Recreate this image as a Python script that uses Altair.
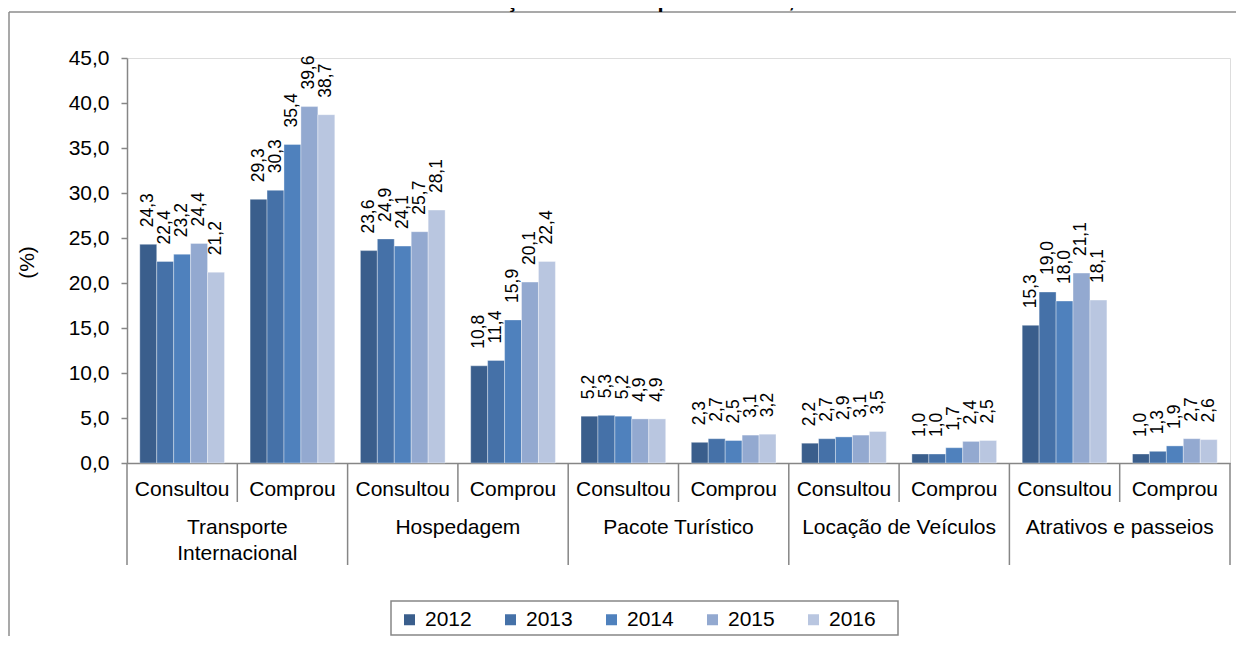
import altair as alt
import pandas as pd

# ---------------- data ----------------
groups = ["Transporte Internacional", "Hospedagem", "Pacote Turístico",
          "Locação de Veículos", "Atrativos e passeios"]
group_labels = ["Transporte\nInternacional", "Hospedagem", "Pacote Turístico",
                "Locação de Veículos", "Atrativos e passeios"]
subs = ["Consultou", "Comprou"]
years = ["2012", "2013", "2014", "2015", "2016"]

transporte_consultou = [24.3, 22.4, 23.2, 24.4, 21.2]
transporte_comprou = [29.3, 30.3, 35.4, 39.6, 38.7]
hospedagem_consultou = [23.6, 24.9, 24.1, 25.7, 28.1]
hospedagem_comprou = [10.8, 11.4, 15.9, 20.1, 22.4]
pacote_consultou = [5.2, 5.3, 5.2, 4.9, 4.9]
pacote_comprou = [2.3, 2.7, 2.5, 3.1, 3.2]
locacao_consultou = [2.2, 2.7, 2.9, 3.1, 3.5]
locacao_comprou = [1.0, 1.0, 1.7, 2.4, 2.5]
atrativos_consultou = [15.3, 19.0, 18.0, 21.1, 18.1]
atrativos_comprou = [1.0, 1.3, 1.9, 2.7, 2.6]

series = [
    transporte_consultou, transporte_comprou,
    hospedagem_consultou, hospedagem_comprou,
    pacote_consultou, pacote_comprou,
    locacao_consultou, locacao_comprou,
    atrativos_consultou, atrativos_comprou,
]

y_ticks = [0, 5, 10, 15, 20, 25, 30, 35, 40, 45]
colors = ["#3A5E8C", "#4571A8", "#4F81BD", "#93A9D0", "#B9C6E0"]
title_text = "Gráfico 10 – Serviços utilizados pela internet, 2012-2016"

# ---------------- tables ----------------
cats = [f"{g}|{s}" for g in groups for s in subs]
rows = []
for i, cat in enumerate(cats):
    for y, v in zip(years, series[i]):
        rows.append({"cat": cat, "year": y, "value": v,
                     "label": f"{v:.1f}".replace(".", ",")})
df = pd.DataFrame(rows)

df_sub = pd.DataFrame({"cat": cats, "sub": [c.split("|")[1] for c in cats]})
df_long = pd.DataFrame({"cat": [f"{g}|{subs[0]}" for g in groups]})
df_short = pd.DataFrame({"cat": [f"{g}|{subs[1]}" for g in groups]})
df_end = pd.DataFrame({"cat": [cats[-1]]})
df_grp = pd.DataFrame({"cat": [f"{g}|{subs[0]}" for g in groups], "text": group_labels})
df_one = pd.DataFrame({"text": [title_text]})

FONT = "Liberation Sans"
GRAY = "#868686"
H = 405
W = 1103

xscale = alt.Scale(domain=cats, paddingInner=0, paddingOuter=0)
yscale = alt.Scale(domain=[0, 45], nice=False)
xoff_scale = alt.Scale(domain=years, paddingInner=0, paddingOuter=0.755)

bars = alt.Chart(df).mark_bar(stroke="white", strokeWidth=0.6, strokeOpacity=0.6).encode(
    x=alt.X("cat:N", scale=xscale,
            axis=alt.Axis(labels=False, ticks=False, title=None, domainColor=GRAY, domainWidth=1.5)),
    xOffset=alt.XOffset("year:N", scale=xoff_scale),
    y=alt.Y("value:Q", scale=yscale,
            axis=alt.Axis(values=y_ticks, grid=False, title="(%)",
                          labelExpr="replace(format(datum.value, '.1f'), '.', ',')",
                          labelFont=FONT, labelFontSize=21, labelColor="black", labelPadding=12,
                          tickColor=GRAY, tickSize=6, tickWidth=1.5, domainColor=GRAY, domainWidth=1.5,
                          titleFont=FONT, titleFontSize=21, titleFontWeight="normal", titleColor="black",
                          titleAngle=270, titleX=-100, titleY=204, titleAlign="center",
                          titleBaseline="middle")),
    color=alt.Color("year:N", scale=alt.Scale(domain=years, range=colors),
                    legend=alt.Legend(title=None, orient="none", direction="horizontal",
                                      legendX=272, legendY=551, padding=0,
                                      symbolType="square", symbolSize=121, symbolStrokeWidth=0,
                                      labelFont=FONT, labelFontSize=21, labelColor="black",
                                      labelOffset=5, columnPadding=28)),
)

labels = alt.Chart(df).mark_text(angle=270, align="left", baseline="middle", dx=17,
                                 font=FONT, fontSize=17.5, color="black").encode(
    x=alt.X("cat:N", scale=xscale),
    xOffset=alt.XOffset("year:N", scale=xoff_scale),
    y=alt.Y("value:Q", scale=yscale),
    text="label:N",
)

sep_long = alt.Chart(df_long).mark_rule(color=GRAY, strokeWidth=1.5).encode(
    x=alt.X("cat:N", scale=xscale, bandPosition=0),
    y=alt.value(H), y2=alt.value(H + 102),
)
sep_end = alt.Chart(df_end).mark_rule(color=GRAY, strokeWidth=1.5).encode(
    x=alt.X("cat:N", scale=xscale, bandPosition=1),
    y=alt.value(H), y2=alt.value(H + 102),
)
sep_short = alt.Chart(df_short).mark_rule(color=GRAY, strokeWidth=1.5).encode(
    x=alt.X("cat:N", scale=xscale, bandPosition=0),
    y=alt.value(H), y2=alt.value(H + 39),
)

sub_text = alt.Chart(df_sub).mark_text(baseline="alphabetic", align="center",
                                       font=FONT, fontSize=21, color="black").encode(
    x=alt.X("cat:N", scale=xscale, bandPosition=0.5),
    y=alt.value(H + 33),
    text="sub:N",
)

grp_text = alt.Chart(df_grp).mark_text(baseline="alphabetic", align="center", lineBreak="\n",
                                       lineHeight=26, font=FONT, fontSize=21, color="black").encode(
    x=alt.X("cat:N", scale=xscale, bandPosition=1),
    y=alt.value(H + 71),
    text="text:N",
)

legend_box = alt.Chart(df_one).mark_rect(fill="transparent", stroke=GRAY, strokeWidth=1.5).encode(
    x=alt.value(264), x2=alt.value(771), y=alt.value(543), y2=alt.value(577),
)

border_top = alt.Chart(df_one).mark_rule(color="#8C8C8C", strokeWidth=1.5).encode(
    x=alt.value(-118), x2=alt.value(1110), y=alt.value(-46),
)
border_left = alt.Chart(df_one).mark_rule(color="#8C8C8C", strokeWidth=1.5).encode(
    x=alt.value(-118), y=alt.value(-46), y2=alt.value(580),
)

title = alt.Chart(df_one).mark_text(align="center", baseline="alphabetic", font=FONT,
                                    fontSize=22, fontWeight="bold", color="black").encode(
    x=alt.value(486), y=alt.value(-51), text="text:N",
)

chart = alt.layer(
    border_top, border_left, title, bars, labels, sep_long, sep_end, sep_short,
    sub_text, grp_text, legend_box,
).properties(
    width=W, height=H,
    autosize=alt.AutoSizeParams(type="none"),
    padding={"left": 119, "top": 50, "right": 6, "bottom": 173},
).configure_view(strokeWidth=0).configure(background="white")

chart.save("out.html", embed_options={"renderer": "svg", "actions": False})
